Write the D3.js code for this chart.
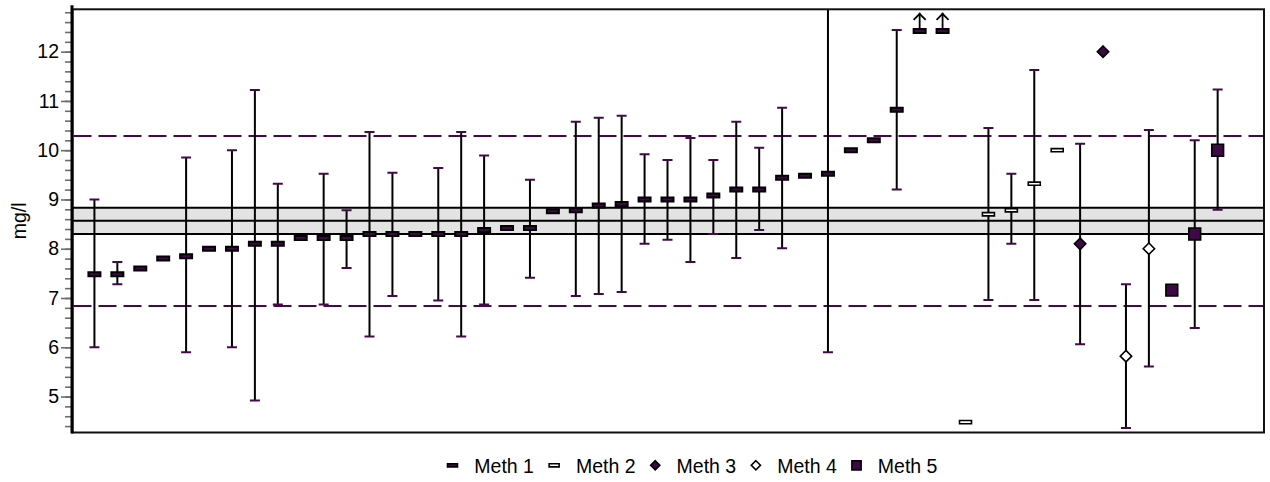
<!DOCTYPE html>
<html>
<head>
<meta charset="utf-8">
<script src="https://cdn.jsdelivr.net/npm/d3@7"></script>
<style>
  html, body { margin: 0; padding: 0; background: #fff; }
  svg { display: block; font-family: "Liberation Sans", Arial, sans-serif; }
</style>
</head>
<body>
<svg id="chart" width="1270" height="482"></svg>
<script>
// Method names shown in the legend
const methods = ["Meth 1", "Meth 2", "Meth 3", "Meth 4", "Meth 5"];

// Method used by each laboratory (1-based index into methods), in plotting order
const methodOf = [
  1, 1, 1, 1, 1, 1, 1, 1, 1, 1,
  1, 1, 1, 1, 1, 1, 1, 1, 1, 1,
  1, 1, 1, 1, 1, 1, 1, 1, 1, 1,
  1, 1, 1, 1, 1, 1, 1, 1,
  2, 2, 2, 2, 2,
  3, 3,
  4, 4,
  5, 5, 5
];

// Reported results (mg/l); null = above the displayed range
const results = [
  7.48, 7.48, 7.60, 7.80, 7.85, 8.00, 8.00, 8.10, 8.10, 8.22,
  8.22, 8.22, 8.30, 8.30, 8.30, 8.30, 8.30, 8.38, 8.42, 8.42,
  8.76, 8.78, 8.88, 8.91, 9.00, 9.00, 9.00, 9.08, 9.20, 9.20,
  9.44, 9.48, 9.52, 10.00, 10.20, 10.82, null, null,
  4.48, 8.70, 8.78, 9.32, 10.00,
  8.10, 12.00,
  5.82, 8.00,
  7.16, 8.30, 10.00
];

// Lower / upper ends of each reported uncertainty (null = none reported)
const lower = [
  6.00, 7.28, null, null, 5.90, null, 6.00, 4.92, 6.87, null,
  6.87, 7.61, 6.22, 7.04, null, 6.95, 6.22, 6.87, null, 7.41,
  null, 7.04, 7.08, 7.12, 8.10, 8.18, 7.73, 8.30, 7.81, 8.38,
  8.01, null, 5.90, null, null, 9.20, null, null,
  null, 6.96, 8.10, 6.96, null,
  6.06, null,
  4.36, 5.61,
  null, 6.39, 8.79
];
const upper = [
  9.00, 7.73, null, null, 9.85, null, 10.00, 11.22, 9.32, null,
  9.52, 8.78, 10.37, 9.54, null, 9.64, 10.37, 9.89, null, 9.40,
  null, 10.58, 10.66, 10.70, 9.92, 9.80, 10.25, 9.80, 10.58, 10.05,
  10.86, null, 13.14, null, null, 12.44, null, null,
  null, 10.45, 9.52, 11.63, null,
  10.13, null,
  7.28, 10.41,
  null, 10.20, 11.23
];

// Where results beyond the range are parked (drawn with an up arrow)
const displayCeiling = 12.42;

// Assigned value, its uncertainty band and the tolerance limits
const assignedValue = 8.57;
const bandLimits = [8.30, 8.83];
const toleranceLimits = [6.84, 10.29];

// Axis ticks
const majorTicks = [5, 6, 7, 8, 9, 10, 11, 12];
const minorTicks = d3.range(44, 129, 2).map(v => v / 10);
const yDomain = [4.27, 12.86];
const yLabel = "mg/l";

// ---------------------------------------------------------------
const svg = d3.select("#chart");
const plot = { left: 72.5, right: 1264, top: 9.3, bottom: 432.5 };
const purple = "#45094b";
const markFill = "#3d0845";

const x = d3.scaleLinear().domain([0, results.length + 2]).range([71.5, 1263.5]);
const y = d3.scaleLinear().domain(yDomain).range([plot.bottom, plot.top]);

svg.append("defs").append("clipPath").attr("id", "plotClip")
  .append("rect")
  .attr("x", plot.left).attr("y", plot.top)
  .attr("width", plot.right - plot.left).attr("height", plot.bottom - plot.top);

const g = svg.append("g").attr("clip-path", "url(#plotClip)");

// Uncertainty band around the assigned value
g.append("rect")
  .attr("x", plot.left).attr("width", plot.right - plot.left)
  .attr("y", y(bandLimits[1])).attr("height", y(bandLimits[0]) - y(bandLimits[1]))
  .attr("fill", "#e3e3e3");
[bandLimits[0], assignedValue, bandLimits[1]].forEach(v => {
  g.append("line")
    .attr("x1", plot.left).attr("x2", plot.right)
    .attr("y1", y(v)).attr("y2", y(v))
    .attr("stroke", "#000").attr("stroke-width", 2);
});

// Tolerance limits
toleranceLimits.forEach(v => {
  g.append("line")
    .attr("x1", plot.left + 1).attr("x2", plot.right)
    .attr("y1", y(v)).attr("y2", y(v))
    .attr("stroke", purple).attr("stroke-width", 2)
    .attr("stroke-dasharray", "18,7");
});

const points = results.map((r, i) => ({
  idx: i + 1,
  method: methodOf[i],
  value: r,
  lo: lower[i],
  hi: upper[i]
}));

// Error bars
const bars = points.filter(d => d.lo !== null && d.hi !== null);
g.selectAll("line.bar").data(bars).join("line")
  .attr("class", "bar")
  .attr("x1", d => x(d.idx)).attr("x2", d => x(d.idx))
  .attr("y1", d => y(d.lo)).attr("y2", d => y(d.hi))
  .attr("stroke", "#000").attr("stroke-width", 2);
["lo", "hi"].forEach(k => {
  g.selectAll("line.cap-" + k).data(bars).join("line")
    .attr("class", "cap-" + k)
    .attr("x1", d => x(d.idx) - 5).attr("x2", d => x(d.idx) + 5)
    .attr("y1", d => y(d[k])).attr("y2", d => y(d[k]))
    .attr("stroke", purple).attr("stroke-width", 2);
});

// Marker shapes per method (outline included in the outer size)
function markerPath(method, cx, cy) {
  if (method === 1) {
    const w = 12, h = 4;
    return `M${cx - w / 2},${cy - h / 2}h${w}v${h}h${-w}Z`;
  }
  if (method === 2) {
    const w = 12, h = 3.2;
    return `M${cx - w / 2},${cy - h / 2}h${w}v${h}h${-w}Z`;
  }
  if (method === 3 || method === 4) {
    const r = 5.7;
    return `M${cx},${cy - r}L${cx + r},${cy}L${cx},${cy + r}L${cx - r},${cy}Z`;
  }
  const a = 11.8;
  return `M${cx - a / 2},${cy - a / 2}h${a}v${a}h${-a}Z`;
}
const filled = m => m === 1 || m === 3 || m === 5;

g.selectAll("path.mark").data(points).join("path")
  .attr("class", "mark")
  .attr("d", d => markerPath(d.method, x(d.idx), y(d.value === null ? displayCeiling : d.value)))
  .attr("fill", d => filled(d.method) ? markFill : "#fff")
  .attr("stroke", "#000")
  .attr("stroke-width", d => d.method === 1 ? 2 : 1.6);

// Up arrows for results above the displayed range
const above = points.filter(d => d.value === null);
above.forEach(d => {
  const cx = x(d.idx);
  const top = plot.top + 3.5;
  g.append("line")
    .attr("x1", cx).attr("x2", cx)
    .attr("y1", y(displayCeiling) - 3).attr("y2", top)
    .attr("stroke", "#000").attr("stroke-width", 1.8);
  g.append("path")
    .attr("d", `M${cx - 6},${top + 7}L${cx},${top + 1}L${cx + 6},${top + 7}`)
    .attr("fill", "none").attr("stroke", "#000").attr("stroke-width", 1.8);
});

// Frame
svg.append("rect")
  .attr("x", plot.left).attr("y", plot.top)
  .attr("width", plot.right - plot.left).attr("height", plot.bottom - plot.top)
  .attr("fill", "none").attr("stroke", "#111").attr("stroke-width", 2);

// Y axis: minor and major ticks
const minorAxis = svg.append("g")
  .attr("transform", `translate(${plot.left - 1.5},0)`)
  .call(d3.axisLeft(y).tickValues(minorTicks).tickSize(6).tickFormat(""));
minorAxis.select(".domain").remove();
minorAxis.selectAll(".tick line").attr("stroke", "#6d6d6d").attr("stroke-width", 1.6);

const majorAxis = svg.append("g")
  .attr("transform", `translate(${plot.left - 1.5},0)`)
  .call(d3.axisLeft(y).tickValues(majorTicks).tickSize(10).tickPadding(2).tickFormat(d3.format("d")));
majorAxis.select(".domain").remove();
majorAxis.selectAll(".tick line").attr("stroke", "#6d6d6d").attr("stroke-width", 1.6);
majorAxis.selectAll(".tick text")
  .attr("fill", "#000").attr("font-size", 19.5)
  .attr("font-family", "'Liberation Sans', Arial, sans-serif");

svg.append("line")
  .attr("x1", plot.left - 0.5).attr("x2", plot.left - 0.5)
  .attr("y1", plot.top - 4).attr("y2", plot.bottom + 1)
  .attr("stroke", "#000").attr("stroke-width", 3);

svg.append("text")
  .attr("transform", `translate(26,${(plot.top + plot.bottom) / 2}) rotate(-90)`)
  .attr("text-anchor", "middle")
  .attr("font-size", 19.5)
  .text(yLabel);

// Legend
const legend = svg.append("g");
let cursor = 446.7;
const legendY = 465.3;
methods.forEach((name, i) => {
  const m = i + 1;
  const wBox = (m <= 2) ? 11.6 : 10.6;
  let d;
  if (m <= 2) {
    d = `M${cursor + 0.8},${legendY - 1.6}h10v3.2h-10Z`;
  } else if (m === 5) {
    d = `M${cursor + 0.7},${legendY - 4.6}h9.2v9.2h-9.2Z`;
  } else {
    const cx = cursor + wBox / 2, r = 4.6;
    d = `M${cx},${legendY - r}L${cx + r},${legendY}L${cx},${legendY + r}L${cx - r},${legendY}Z`;
  }
  legend.append("path")
    .attr("d", d)
    .attr("fill", filled(m) ? markFill : "#fff")
    .attr("stroke", "#000").attr("stroke-width", 1.6);
  const t = legend.append("text")
    .attr("x", cursor + wBox + 16)
    .attr("y", 472.7)
    .attr("font-size", 19.5)
    .attr("fill", "#000")
    .text(name);
  cursor = cursor + wBox + 16 + t.node().getComputedTextLength() + 14.4;
});
</script>
</body>
</html>
